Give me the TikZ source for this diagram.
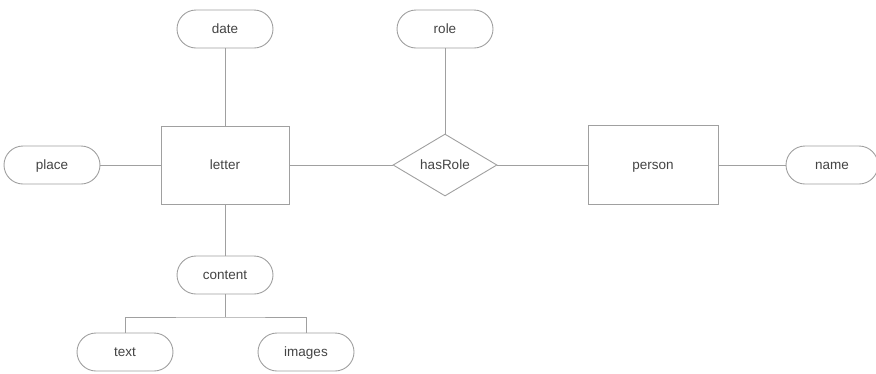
\documentclass[tikz,border=0pt]{standalone}
\usepackage{fontspec}
\setmainfont{Liberation Sans}
\usetikzlibrary{shapes.geometric}
\definecolor{edgegray}{HTML}{A0A0A0}
\definecolor{txtgray}{HTML}{444444}
\begin{document}
\begin{tikzpicture}[x=1pt,y=-1pt,
  base/.style={draw=edgegray,line width=0.9pt,text=txtgray,font=\fontsize{13.5}{15}\selectfont,fill=white,text height=9.5pt,text depth=1.5pt},
  attr/.style={base,rounded corners=19pt,minimum width=96pt,minimum height=38pt,inner sep=0pt},
  entity/.style={base,rectangle,minimum width=128pt,minimum height=78pt,inner sep=0pt},
  rel/.style={base,diamond,minimum width=104pt,minimum height=62pt,inner sep=0pt,aspect=1.68},
  link/.style={draw=edgegray,line width=0.9pt}]
\useasboundingbox (0,0) rectangle (876,373);
\node[attr] (date) at (225,29) {date};
\node[attr] (role) at (445,29) {role};
\node[entity] (letter) at (225,165) {letter};
\node[attr] (place) at (52,165) {place};
\node[rel] (hasrole) at (445,165) {hasRole};
\node[entity,minimum width=130pt,minimum height=79pt] (person) at (653,165) {person};
\node[attr,minimum width=92pt] (name) at (832,165) {name};
\node[attr] (content) at (225,275) {content};
\node[attr] (text) at (125,352) {text};
\node[attr] (images) at (306,352) {images};
\coordinate (fork) at (225,317);
\draw[link] (date) -- (letter);
\draw[link] (role) -- (hasrole);
\draw[link] (place) -- (letter);
\draw[link] (letter) -- (hasrole);
\draw[link] (hasrole) -- (person);
\draw[link] (person) -- (name);
\draw[link] (letter) -- (content);
\draw[link] (content) -- (fork);
\draw[link] (text.north) |- (fork) -| (images.north);
\end{tikzpicture}
\end{document}
